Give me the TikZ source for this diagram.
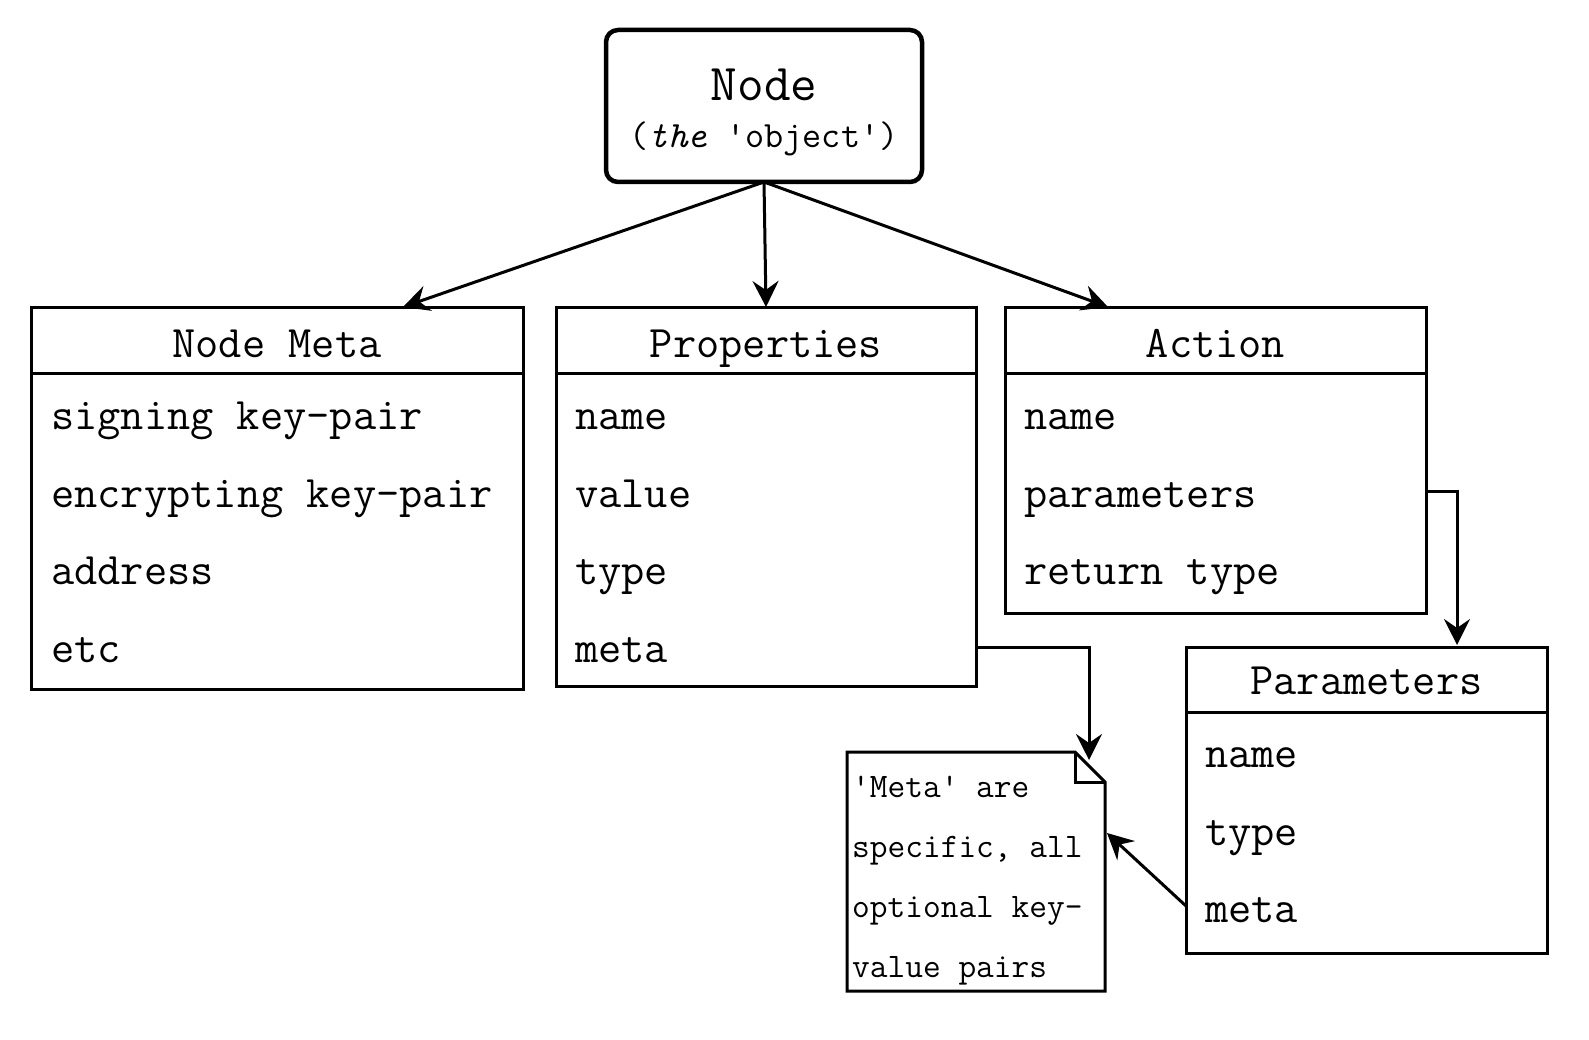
\documentclass[tikz,border=0pt]{standalone}
\usetikzlibrary{arrows.meta}
\begin{document}
\begin{tikzpicture}[x=1pt,y=-1pt,
  box/.style={draw, line width=3pt, anchor=north west, inner sep=0pt, outer sep=0pt},
  txt/.style={inner sep=0pt, yshift=-2.5pt},
  hdr/.style={txt, anchor=base, font=\ttfamily\fontsize{45.1}{50}\selectfont},
  row/.style={txt, anchor=base west, font=\ttfamily\fontsize{45.1}{50}\selectfont},
  notetxt/.style={txt, anchor=base west, font=\ttfamily\fontsize{34.4}{40}\selectfont},
  arr/.style={line width=3pt, -{Stealth[length=26pt,width=26pt,inset=9pt]}}
]
\useasboundingbox (0,0) rectangle (1589,1040);

% top node
\node[box, line width=4.5pt, rounded corners=12pt, minimum width=316pt, minimum height=152pt] (obj) at (606,30) {};
\node[txt, anchor=base, font=\ttfamily\fontsize{51.7}{56}\selectfont] (objt) at (764,98) {Node};
\node[txt, anchor=base, font=\ttfamily\fontsize{37.1}{42}\selectfont] (objs) at (764,145) {(\textit{the} 'object')};

% Node Meta
\node[box, minimum width=492pt, minimum height=381pt] (meta) at (31,308) {};
\draw[line width=3pt] ([yshift=-65pt]meta.north west) -- ([yshift=-65pt]meta.north east);
\node[hdr] (metah) at (277,355) {Node Meta};
\node[row] (m1) at (51,427) {signing key-pair};
\node[row] (m2) at (51,504.5) {encrypting key-pair};
\node[row] (m3) at (51,582) {address};
\node[row] (m4) at (51,659.5) {etc};

% Properties
\node[box, minimum width=420pt, minimum height=378pt] (prop) at (556,308) {};
\draw[line width=3pt] ([yshift=-65pt]prop.north west) -- ([yshift=-65pt]prop.north east);
\node[hdr] (proph) at (766,355) {Properties};
\node[row] (p1) at (575,427) {name};
\node[row] (p2) at (575,504.5) {value};
\node[row] (p3) at (575,582) {type};
\node[row] (p4) at (575,659.5) {meta};

% Action
\node[box, minimum width=421pt, minimum height=305pt] (act) at (1005,308) {};
\draw[line width=3pt] ([yshift=-65pt]act.north west) -- ([yshift=-65pt]act.north east);
\node[hdr] (acth) at (1215.5,355) {Action};
\node[row] (a1) at (1024,427) {name};
\node[row] (a2) at (1024,504.5) {parameters};
\node[row] (a3) at (1024,582) {return type};

% Parameters
\node[box, minimum width=361pt, minimum height=306pt] (par) at (1186,647) {};
\draw[line width=3pt] ([yshift=-65pt]par.north west) -- ([yshift=-65pt]par.north east);
\node[hdr] (parh) at (1366.5,692) {Parameters};
\node[row] (q1) at (1205,765) {name};
\node[row] (q2) at (1205,842.5) {type};
\node[row] (q3) at (1205,920) {meta};

% Note
\node[anchor=north west, inner sep=0pt, outer sep=0pt, minimum width=258pt, minimum height=239pt] (note) at (847,752) {};
\draw[line width=3pt, line join=miter]
  (note.north west) -- ([xshift=-30pt]note.north east) -- ([yshift=-30pt]note.north east)
  -- (note.south east) -- (note.south west) -- cycle;
\draw[line width=3pt, line join=miter]
  ([xshift=-30pt]note.north east) -- ([xshift=-30pt,yshift=-30pt]note.north east) -- ([yshift=-30pt]note.north east);
\node[notetxt] (n1) at (852,795) {'Meta' are};
\node[notetxt] (n2) at (852,855) {specific, all};
\node[notetxt] (n3) at (852,915) {optional key-};
\node[notetxt] (n4) at (852,975) {value pairs};

% connectors
\draw[arr] (obj.south) -- ([xshift=372pt,yshift=1pt]meta.north west);
\draw[arr] (obj.south) -- ([yshift=1pt]prop.north);
\draw[arr] (obj.south) -- ([xshift=103pt,yshift=1pt]act.north west);
\draw[arr] ([yshift=39pt]prop.south east) -| ([xshift=-16pt,yshift=-8pt]note.north east);
\draw[arr] ([yshift=-30.5pt]act.east) -| ([xshift=90.5pt,yshift=2pt]par.north);
\draw[arr] ([yshift=-106pt]par.west) -- ([xshift=2pt,yshift=38.5pt]note.east);
\end{tikzpicture}
\end{document}
